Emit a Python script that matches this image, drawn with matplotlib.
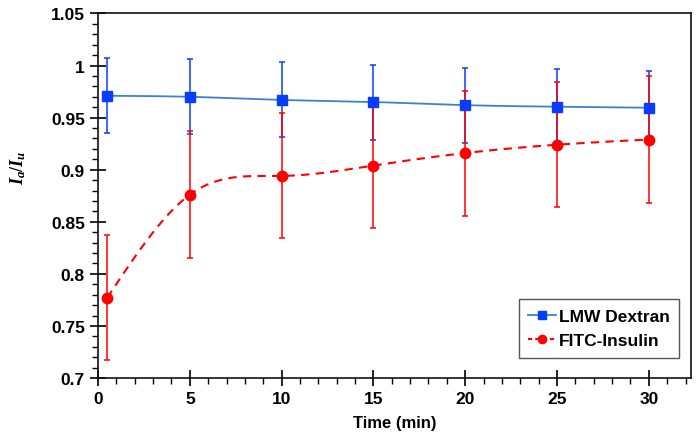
import matplotlib
matplotlib.use('Agg')
import matplotlib.pyplot as plt
import numpy as np
from matplotlib.ticker import MultipleLocator

# data
time = [0.5, 5, 10, 15, 20, 25, 30]
dextran = [0.971, 0.970, 0.967, 0.965, 0.962, 0.9605, 0.9595]
dextran_err = [0.036, 0.036, 0.036, 0.036, 0.036, 0.036, 0.035]
insulin = [0.777, 0.876, 0.894, 0.904, 0.916, 0.924, 0.929]
insulin_err = [0.060, 0.061, 0.060, 0.060, 0.060, 0.060, 0.061]


def natural_spline(x, y, n=300):
    # plain natural cubic spline through the points, for the smoothed lines
    x = np.asarray(x, float)
    y = np.asarray(y, float)
    k = len(x)
    h = np.diff(x)
    A = np.zeros((k, k))
    b = np.zeros(k)
    A[0, 0] = A[-1, -1] = 1
    for i in range(1, k - 1):
        A[i, i - 1] = h[i - 1]
        A[i, i] = 2 * (h[i - 1] + h[i])
        A[i, i + 1] = h[i]
        b[i] = 6 * ((y[i + 1] - y[i]) / h[i] - (y[i] - y[i - 1]) / h[i - 1])
    M = np.linalg.solve(A, b)
    xs = np.linspace(x[0], x[-1], n)
    idx = np.clip(np.searchsorted(x, xs) - 1, 0, k - 2)
    x0, x1 = x[idx], x[idx + 1]
    hh = x1 - x0
    t0 = x1 - xs
    t1 = xs - x0
    ys = (M[idx] * t0**3 + M[idx + 1] * t1**3) / (6 * hh) \
        + (y[idx] / hh - M[idx] * hh / 6) * t0 \
        + (y[idx + 1] / hh - M[idx + 1] * hh / 6) * t1
    return xs, ys


plt.rcParams['font.family'] = ['Liberation Sans', 'DejaVu Sans']
plt.rcParams['mathtext.fontset'] = 'custom'
plt.rcParams['mathtext.it'] = 'Liberation Serif:italic:bold'
plt.rcParams['mathtext.rm'] = 'Liberation Serif:bold'

fig = plt.figure(figsize=(6.98, 4.35), dpi=100)
ax = fig.add_axes([0.1404, 0.1287, 0.8496, 0.838])

blue_line = '#3b82d6'
blue_mark = '#0a3cff'
red = '#ff0000'

xs, ys = natural_spline(time, dextran)
ax.plot(xs, ys, color=blue_line, lw=1.3, zorder=2)
ax.errorbar(time, dextran, yerr=dextran_err, fmt='none', ecolor=blue_mark,
            elinewidth=1.1, capsize=2.5, capthick=1.1, zorder=3)
ax.plot(time, dextran, 's', color=blue_mark, ms=7, zorder=4)

xs, ys = natural_spline(time, insulin)
ax.plot(xs, ys, color=red, lw=1.5, ls=(0, (4, 3)), zorder=2)
ax.errorbar(time, insulin, yerr=insulin_err, fmt='none', ecolor=red,
            elinewidth=1.1, capsize=2.5, capthick=1.1, zorder=3)
ax.plot(time, insulin, 'o', color=red, ms=7.5, zorder=4)

# legend proxies
h1, = ax.plot([], [], '-s', color=blue_line, mfc=blue_mark, mec=blue_mark, ms=6, lw=1.3)
h2, = ax.plot([], [], '--o', color=red, ms=6, lw=1.5, dashes=(2, 1.5))
leg = ax.legend([h1, h2], ['LMW Dextran', 'FITC-Insulin'], loc='lower right',
                bbox_to_anchor=(0.98, 0.055), fancybox=False, framealpha=1,
                edgecolor='#555555', handlelength=1.6, handletextpad=0.15,
                borderpad=0.55, labelspacing=0.55, borderaxespad=0,
                prop={'weight': 'bold', 'size': 12.5})
leg.get_frame().set_linewidth(1.0)

ax.set_xlim(0, 32.3)
ax.set_ylim(0.7, 1.05)
ax.xaxis.set_major_locator(MultipleLocator(5))
ax.xaxis.set_minor_locator(MultipleLocator(1))
ax.yaxis.set_minor_locator(MultipleLocator(0.01))
ax.set_yticks(np.arange(0.7, 1.0501, 0.05))
ax.set_yticklabels(['0.7', '0.75', '0.8', '0.85', '0.9', '0.95', '1', '1.05'])

ax.tick_params(which='major', direction='inout', length=11, width=1.2,
               labelsize=12.5, top=False, right=False, pad=4)
ax.tick_params(which='minor', direction='out', length=4, width=1.0,
               top=False, right=False)
for lab in ax.get_xticklabels() + ax.get_yticklabels():
    lab.set_fontweight('bold')
for s in ax.spines.values():
    s.set_linewidth(1.2)
    s.set_color('#111111')

ax.set_xlabel('Time (min)', fontsize=12, fontweight='bold', labelpad=6)
ax.set_ylabel('$I_a/I_u$', fontsize=13)
ax.yaxis.set_label_coords(-0.118, 0.58)

fig.savefig('out.png', dpi=100)
